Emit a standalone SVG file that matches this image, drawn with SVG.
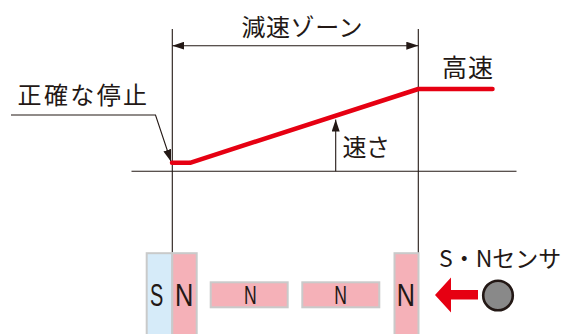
<svg xmlns="http://www.w3.org/2000/svg" width="575" height="334" viewBox="0 0 575 334">
<style>
.ln{stroke:#231815;stroke-width:1.1;fill:none}
.red{stroke:#e60012;stroke-width:4.5;fill:none;stroke-linejoin:round;stroke-linecap:round}
.jp{font-family:"Noto Sans CJK JP","Noto Sans",sans-serif;fill:#231815}
.lat{font-family:"Liberation Sans",Arial,sans-serif;fill:#231815}
.mag{stroke:#c9caca;stroke-width:2}
.n{fill:#f5b1b8}
.s{fill:#d6ebf9}
</style>
<defs>
<marker id="ah" viewBox="0 0 12 8" refX="12" refY="4" markerWidth="12" markerHeight="8" markerUnits="userSpaceOnUse" orient="auto-start-reverse">
<path d="M0,0 L12,4 L0,8 Z" fill="#231815"/>
</marker>
</defs>
<rect width="575" height="334" fill="#fff"/>
<g id="connectors">
<line class="ln" x1="172.3" y1="29" x2="172.3" y2="253"/>
<line class="ln" x1="418.3" y1="29" x2="418.3" y2="253"/>
<line class="ln" x1="172.3" y1="45.7" x2="418.3" y2="45.7" marker-start="url(#ah)" marker-end="url(#ah)"/>
<line class="ln" x1="131.5" y1="171.3" x2="516.5" y2="171.3"/>
<line class="ln" x1="335.7" y1="171.3" x2="335.7" y2="119.5" marker-end="url(#ah)"/>
<polyline class="ln" points="11,115 155.5,115 171,161.5" marker-end="url(#ah)"/>
<polyline class="red" points="172,162.8 190,162.8 418.3,89 492.5,89"/>
</g>
<g id="label-zone"><text class="jp" x="241.5" y="35.5" font-size="24" textLength="121">減速ゾーン</text></g>
<g id="label-stop"><text class="jp" x="17.5" y="103.5" font-size="24" textLength="129.5">正確な停止</text></g>
<g id="label-high"><text class="jp" x="442" y="76.5" font-size="25" textLength="51">高速</text></g>
<g id="label-speed"><text class="jp" x="342.5" y="155.5" font-size="24" textLength="47.5">速さ</text></g>
<g id="magnet-sn">
<rect class="mag s" x="146.7" y="253.2" width="25.6" height="90"/>
<rect class="mag n" x="172.3" y="253.2" width="24.4" height="90"/>
<text class="lat" x="150" y="306" font-size="31.5" textLength="13.3" lengthAdjust="spacingAndGlyphs">S</text>
<text class="lat" x="175" y="306" font-size="31.5" textLength="18.3" lengthAdjust="spacingAndGlyphs">N</text>
</g>
<g id="magnet-n1">
<rect class="mag n" x="210.7" y="282.3" width="77" height="25"/>
<text class="lat" x="244" y="304" font-size="26.5" textLength="12.7" lengthAdjust="spacingAndGlyphs">N</text>
</g>
<g id="magnet-n2">
<rect class="mag n" x="302.3" y="282.3" width="77" height="25"/>
<text class="lat" x="334.3" y="304" font-size="26.5" textLength="12.7" lengthAdjust="spacingAndGlyphs">N</text>
</g>
<g id="magnet-n3">
<rect class="mag n" x="394.5" y="253.2" width="24" height="90"/>
<text class="lat" x="396.8" y="306" font-size="31.5" textLength="18.2" lengthAdjust="spacingAndGlyphs">N</text>
</g>
<g id="sensor">
<path d="M435,295 L451,277.5 L451,290 L478,290 L478,299.5 L451,299.5 L451,312.5 Z" fill="#e60012"/>
<circle cx="498" cy="295.5" r="14.8" fill="#898989" stroke="#231815" stroke-width="2.6"/>
<text class="jp" x="439" y="267" font-size="23">S・Nセンサ</text>
</g>
</svg>
